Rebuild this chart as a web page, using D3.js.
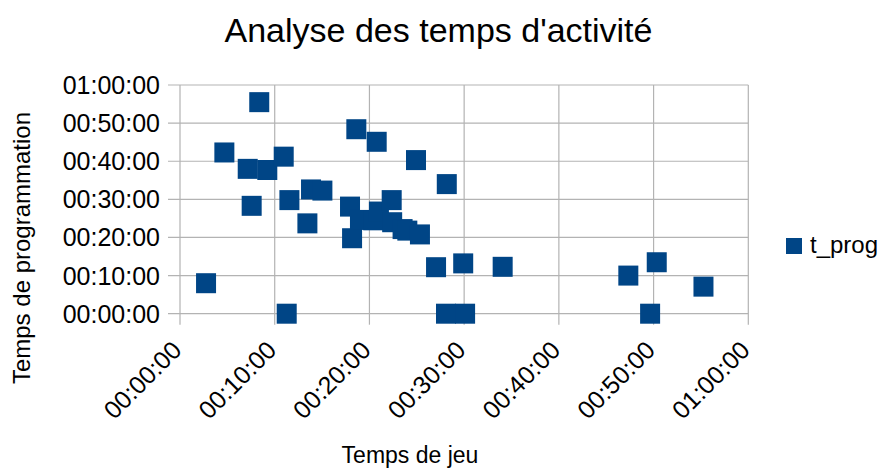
<!DOCTYPE html>
<html>
<head>
<meta charset="utf-8">
<script src="https://cdn.jsdelivr.net/npm/d3@7"></script>
<style>
  html, body { margin: 0; padding: 0; background: #fff; }
  svg { display: block; font-family: "Liberation Sans", Arial, sans-serif; }
</style>
</head>
<body>
<svg id="chart" width="883" height="468"></svg>
<script>
const title = "Analyse des temps d'activité";
const xTitle = "Temps de jeu";
const yTitle = "Temps de programmation";
const seriesName = "t_prog";

// Temps de jeu (x) and t_prog (y), hh:mm:ss
const tJeu = ["00:02:45","00:04:41","00:08:22","00:07:09","00:07:34","00:09:13","00:10:57","00:11:33","00:11:16","00:13:27",
              "00:13:50","00:15:02","00:18:37","00:20:46","00:17:57","00:18:10","00:19:00","00:20:24","00:21:00","00:22:21",
              "00:22:24","00:23:30","00:24:00","00:24:55","00:25:20","00:27:02","00:28:10","00:28:05","00:29:54","00:30:06",
              "00:34:04","00:47:20","00:50:20","00:49:38","00:55:16"];
const tProg = ["00:08:00","00:42:18","00:55:30","00:38:00","00:28:18","00:37:42","00:41:12","00:29:48","00:00:00","00:23:42",
               "00:32:36","00:32:18","00:48:24","00:45:06","00:28:06","00:19:48","00:24:36","00:24:30","00:26:48","00:29:48",
               "00:24:00","00:22:12","00:21:48","00:40:18","00:20:48","00:12:12","00:34:00","00:00:00","00:13:12","00:00:00",
               "00:12:18","00:10:00","00:13:30","00:00:00","00:07:06"];
const tickLabels = ["00:00:00","00:10:00","00:20:00","00:30:00","00:40:00","00:50:00","01:00:00"];

const toSec = s => { const [h,m,x] = s.split(":").map(Number); return h*3600 + m*60 + x; };
const ticks = tickLabels.map(toSec);
const data = tJeu.map((d, i) => ({ x: toSec(d), y: toSec(tProg[i]) }));

const L = 180, R = 748.3, T = 85, B = 313.7;
const grid = "#b3b3b3";
const color = "#004586";

const svg = d3.select("#chart");
const x = d3.scaleLinear().domain([0, 3600]).range([L, R]);
const y = d3.scaleLinear().domain([0, 3600]).range([B, T]);

// gridlines
svg.append("g").selectAll("line").data(ticks).join("line")
  .attr("x1", L - 12).attr("x2", R).attr("y1", d => y(d)).attr("y2", d => y(d))
  .attr("stroke", grid).attr("stroke-width", 1.2);
svg.append("g").selectAll("line").data(ticks).join("line")
  .attr("y1", T).attr("y2", B + 11).attr("x1", d => x(d)).attr("x2", d => x(d))
  .attr("stroke", grid).attr("stroke-width", 1.2);

// y tick labels
svg.append("g").selectAll("text").data(ticks).join("text")
  .attr("x", L - 20).attr("y", d => y(d)).attr("dy", "0.36em")
  .attr("text-anchor", "end").attr("font-size", 25).attr("fill", "#000")
  .text((d, i) => tickLabels[i]);

// x tick labels rotated
svg.append("g").selectAll("text").data(ticks).join("text")
  .attr("text-anchor", "end").attr("font-size", 25).attr("fill", "#000")
  .attr("transform", d => `translate(${x(d) + 3},${B + 38}) rotate(-45)`)
  .text((d, i) => tickLabels[i]);

// points
svg.append("g").selectAll("rect").data(data).join("rect")
  .attr("x", d => x(d.x) - 10).attr("y", d => y(d.y) - 10)
  .attr("width", 20).attr("height", 20).attr("fill", color);

// title
svg.append("text").attr("x", 438.5).attr("y", 42).attr("text-anchor", "middle")
  .attr("font-size", 34).attr("fill", "#000").text(title);

// axis titles
svg.append("text").attr("x", 410).attr("y", 463).attr("text-anchor", "middle")
  .attr("font-size", 23).attr("fill", "#000").text(xTitle);
svg.append("text").attr("transform", "translate(30,248) rotate(-90)")
  .attr("text-anchor", "middle").attr("font-size", 24).attr("fill", "#000").text(yTitle);

// legend
svg.append("rect").attr("x", 786).attr("y", 238).attr("width", 16).attr("height", 16).attr("fill", color);
svg.append("text").attr("x", 810).attr("y", 253).attr("font-size", 24).attr("fill", "#000").text(seriesName);
</script>
</body>
</html>
